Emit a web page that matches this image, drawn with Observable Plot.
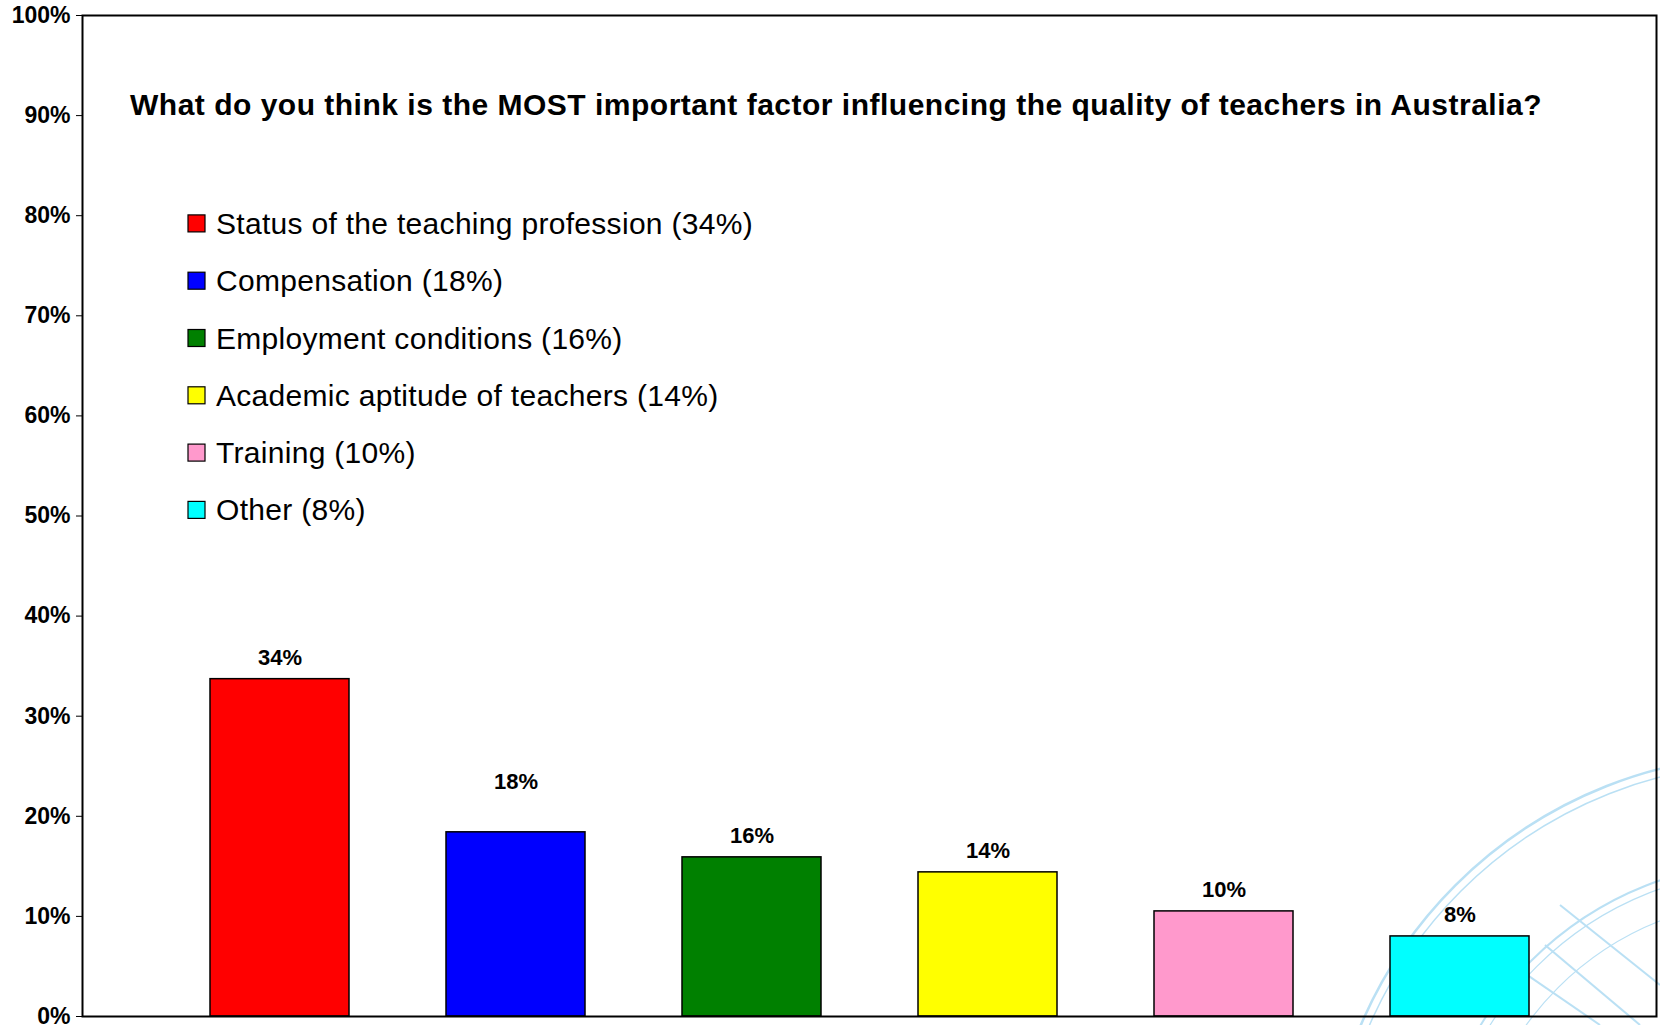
<!DOCTYPE html>
<html><head><meta charset="utf-8">
<script src="https://cdn.jsdelivr.net/npm/d3@7"></script>
<script src="https://cdn.jsdelivr.net/npm/@observablehq/plot@0.6"></script>
<style>
html,body{margin:0;padding:0;background:#fff;}
#chart{width:1660px;height:1025px;}
svg{font-family: Arial, "Liberation Sans", sans-serif;}
</style></head><body><div id="chart"></div>
<script>
const title = "What do you think is the MOST important factor influencing the quality of teachers in Australia?";
const categories = ["Status of the teaching profession", "Compensation", "Employment conditions", "Academic aptitude of teachers", "Training", "Other"];
const values = [33.7, 18.4, 15.9, 14.4, 10.5, 8.0];
const valueLabels = ["34%", "18%", "16%", "14%", "10%", "8%"];
const legendLabels = ["Status of the teaching profession (34%)", "Compensation (18%)", "Employment conditions (16%)", "Academic aptitude of teachers (14%)", "Training (10%)", "Other (8%)"];
const colors = ["#ff0000", "#0000ff", "#008000", "#ffff00", "#ff99cc", "#00ffff"];
const yTicks = [0, 10, 20, 30, 40, 50, 60, 70, 80, 90, 100];

const data = categories.map((c, i) => ({category: c, value: values[i], label: valueLabels[i]}));
const font = "Arial, 'Liberation Sans', sans-serif";

const plot = Plot.plot({
  width: 1660, height: 1025,
  marginLeft: 82, marginRight: 4, marginTop: 15, marginBottom: 9,
  style: {fontFamily: font, color: "#000", background: "#fff", overflow: "visible"},
  x: {domain: categories, paddingInner: 0.413, paddingOuter: 0.531, axis: null},
  y: {domain: [0, 100], axis: null},
  color: {domain: categories, range: colors},
  marks: [
    Plot.barY(data, {x: "category", y: "value", fill: "category", stroke: "#000", strokeWidth: 1.5}),
    Plot.text(data.filter(d => d.category !== "Compensation"), {x: "category", y: "value", text: "label", lineAnchor: "bottom", dy: -14, fontSize: 22, fontWeight: "bold", fill: "#000"}),
    Plot.text(data.filter(d => d.category === "Compensation"), {x: "category", y: "value", text: "label", lineAnchor: "bottom", dy: -43, fontSize: 22, fontWeight: "bold", fill: "#000"}),
    Plot.frame({stroke: "#000", strokeWidth: 2}),
    Plot.axisY({ticks: yTicks, tickFormat: d => d + "%", tickSize: 6, tickPadding: 6, fontSize: 23, fontWeight: "bold", label: null, stroke: "#000"})
  ]
});

document.getElementById("chart").appendChild(plot);
const svg = d3.select(plot);

// faint background watermark (decorative arcs), drawn behind the marks
const wm = svg.insert("g", ":first-child").attr("fill", "none").attr("stroke", "#a9d9f2").attr("opacity", 0.8);
const cx = 1770, cy0 = 1200;
[[445, 2.5], [437, 1.5], [338, 2], [330, 1.2], [300, 1.2]].forEach(([r, w]) => {
  wm.append("circle").attr("cx", cx).attr("cy", cy0).attr("r", r).attr("stroke-width", w);
});
[[1545, 945, 1640, 1025], [1560, 905, 1660, 985], [1520, 970, 1600, 1025]].forEach(([a, b, c, d]) => {
  wm.append("line").attr("x1", a).attr("y1", b).attr("x2", c).attr("y2", d).attr("stroke-width", 2);
});

svg.append("text")
  .attr("x", 130).attr("y", 115).attr("text-anchor", "start")
  .attr("font-size", 30).attr("font-weight", "bold").attr("letter-spacing", 0.5)
  .attr("fill", "#000").attr("font-family", font)
  .text(title);

const lg = svg.append("g").attr("font-family", font).attr("text-anchor", "start");
legendLabels.forEach((t, i) => {
  const cy = 223.4 + i * 57.3;
  lg.append("rect").attr("x", 188).attr("y", cy - 8.5).attr("width", 17).attr("height", 17)
    .attr("fill", colors[i]).attr("stroke", "#000").attr("stroke-width", 1.2);
  lg.append("text").attr("x", 216).attr("y", cy).attr("dy", "0.35em").attr("text-anchor", "start")
    .attr("font-size", 30).attr("letter-spacing", 0.3).attr("fill", "#000").text(t);
});
</script></body></html>
